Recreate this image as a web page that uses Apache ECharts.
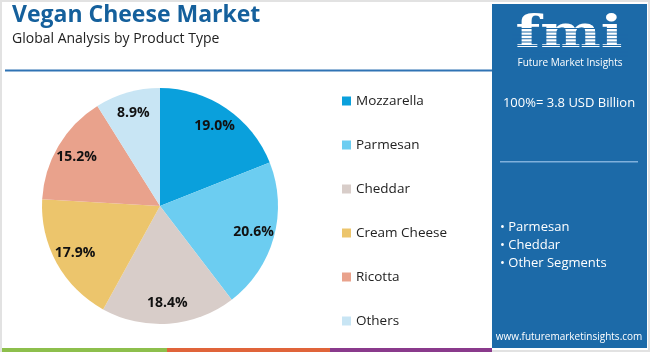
<!DOCTYPE html>
<html><head><meta charset="utf-8">
<script src="https://cdn.jsdelivr.net/npm/echarts@6/dist/echarts.min.js"></script>
<style>html,body{margin:0;padding:0;background:#fff}#c{width:650px;height:352px}</style>
</head><body><div id="c"></div>
<script>
const categories = ['Mozzarella','Parmesan','Cheddar','Cream Cheese','Ricotta','Others'];
const shares = [19.0, 20.6, 18.4, 17.9, 15.2, 8.9];
const colors = ['#0aa0dc','#6ccdf1','#d8cdc9','#ecc56c','#e9a28c','#c8e5f4'];
const bullets = ['• Parmesan','• Cheddar','• Other Segments'];
const totalText = '100%= 3.8 USD Billion';

const FONT = '"Open Sans", sans-serif';
const chart = echarts.init(document.getElementById('c'), null, {renderer:'canvas'});
const data = categories.map((n,i)=>({name:n, value:shares[i], itemStyle:{color:colors[i]}}));
const panelBlue = '#1c6aa8';

const graphics = [
  {type:'rect', shape:{x:1,y:1,width:648,height:350}, style:{fill:'none', stroke:'#e2e2e2', lineWidth:2}, z:-10},
  {type:'text', left:12, top:4, style:{text:'Vegan Cheese Market', font:'bold 23px '+FONT, fill:'#15609c'}},
  {type:'text', left:12, top:32, style:{text:'Global Analysis by Product Type', font:'14px '+FONT, fill:'#222'}},
  {type:'rect', shape:{x:5,y:69.5,width:490,height:2}, style:{fill:'#2f73b4'}},
  {type:'rect', shape:{x:492,y:4,width:155,height:344}, style:{fill:panelBlue}},
  {type:'text', x:569, y:14, scaleX:1.3, originX:0, originY:0, style:{text:'fmi', font:'bold 44px "DejaVu Serif", serif', fill:'#fff', align:'center', verticalAlign:'top'}},
  {type:'text', x:570, y:58, style:{text:'Future Market Insights', font:'10px '+FONT, fill:'#fff', align:'center', verticalAlign:'top'}},
  {type:'text', x:569, y:103, style:{text:totalText, font:'13px '+FONT, fill:'#fff', align:'center', verticalAlign:'middle'}},
  {type:'rect', shape:{x:500,y:161,width:138,height:1.5}, style:{fill:'#7fb0dc'}},
  {type:'text', x:569, y:337, style:{text:'www.futuremarketinsights.com', font:'10px '+FONT, fill:'#fff', align:'center', verticalAlign:'middle'}},
  {type:'rect', shape:{x:2,y:348,width:165,height:4}, style:{fill:'#8dbf4c'}},
  {type:'rect', shape:{x:167,y:348,width:163,height:4}, style:{fill:'#e0643a'}},
  {type:'rect', shape:{x:330,y:348,width:162,height:4}, style:{fill:'#8a3a8c'}}
];
bullets.forEach((b,i)=>graphics.push({type:'text', x:500, y:227+i*18, style:{text:b, font:'13px '+FONT, fill:'#fff', verticalAlign:'middle'}}));
// stripes over logo letters
for(let k=0;k<9;k++) graphics.push({type:'rect', shape:{x:512,y:28+k*3.4,width:116,height:1}, style:{fill:panelBlue}, z:10});

chart.setOption({
  animation:false,
  legend:{orient:'vertical', left:337, top:89, itemWidth:9, itemHeight:9, itemGap:30, icon:'rect',
    data:categories, textStyle:{fontFamily:FONT, fontSize:13.5, color:'#222', padding:[0,0,0,0]}},
  graphic:graphics,
  series:[
    {type:'pie', center:[160,206], radius:[0,118], startAngle:90, clockwise:true, silent:true,
      label:{show:false}, labelLine:{show:false}, data:data},
    {type:'pie', center:[160,206], radius:[70,118], startAngle:90, clockwise:true, silent:true,
      itemStyle:{color:'rgba(0,0,0,0)'},
      label:{show:true, position:'inside', formatter:p=>p.value.toFixed(1)+'%', fontFamily:FONT, fontWeight:'bold', fontSize:14, color:'#111'},
      labelLine:{show:false},
      data:categories.map((n,i)=>({name:n, value:shares[i], itemStyle:{color:'rgba(0,0,0,0)'}}))}
  ]
});
</script></body></html>
